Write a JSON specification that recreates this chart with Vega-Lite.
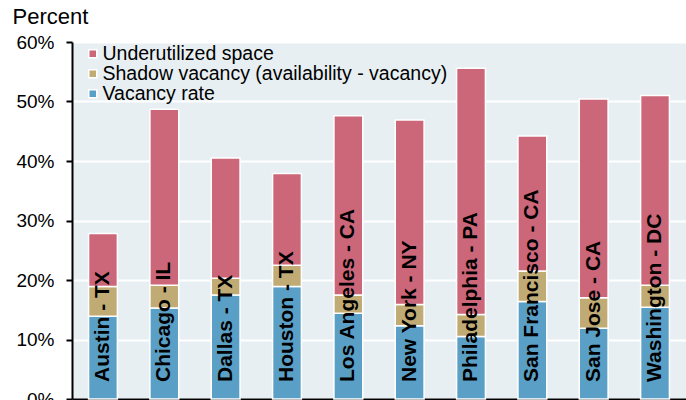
{
  "$schema": "https://vega.github.io/schema/vega-lite/v6.json",
  "width": 614,
  "height": 357,
  "autosize": {"type": "none"},
  "padding": {"left": 72, "top": 42, "right": 0, "bottom": 1},
  "background": "white",
  "config": {"font": "Liberation Sans", "view": {"fill": "#e7eff2", "stroke": null}},
  "data": {"values": [
    {"city": "Austin - TX", "series": "Vacancy rate", "rank": 1, "value": 13.9},
    {"city": "Austin - TX", "series": "Shadow vacancy (availability - vacancy)", "rank": 2, "value": 5.0},
    {"city": "Austin - TX", "series": "Underutilized space", "rank": 3, "value": 8.9},
    {"city": "Chicago - IL", "series": "Vacancy rate", "rank": 1, "value": 15.3},
    {"city": "Chicago - IL", "series": "Shadow vacancy (availability - vacancy)", "rank": 2, "value": 3.8},
    {"city": "Chicago - IL", "series": "Underutilized space", "rank": 3, "value": 29.6},
    {"city": "Dallas - TX", "series": "Vacancy rate", "rank": 1, "value": 17.5},
    {"city": "Dallas - TX", "series": "Shadow vacancy (availability - vacancy)", "rank": 2, "value": 2.8},
    {"city": "Dallas - TX", "series": "Underutilized space", "rank": 3, "value": 20.2},
    {"city": "Houston - TX", "series": "Vacancy rate", "rank": 1, "value": 18.9},
    {"city": "Houston - TX", "series": "Shadow vacancy (availability - vacancy)", "rank": 2, "value": 3.6},
    {"city": "Houston - TX", "series": "Underutilized space", "rank": 3, "value": 15.4},
    {"city": "Los Angeles - CA", "series": "Vacancy rate", "rank": 1, "value": 14.4},
    {"city": "Los Angeles - CA", "series": "Shadow vacancy (availability - vacancy)", "rank": 2, "value": 3.1},
    {"city": "Los Angeles - CA", "series": "Underutilized space", "rank": 3, "value": 30.1},
    {"city": "New York - NY", "series": "Vacancy rate", "rank": 1, "value": 12.3},
    {"city": "New York - NY", "series": "Shadow vacancy (availability - vacancy)", "rank": 2, "value": 3.6},
    {"city": "New York - NY", "series": "Underutilized space", "rank": 3, "value": 31.0},
    {"city": "Philadelphia - PA", "series": "Vacancy rate", "rank": 1, "value": 10.5},
    {"city": "Philadelphia - PA", "series": "Shadow vacancy (availability - vacancy)", "rank": 2, "value": 3.7},
    {"city": "Philadelphia - PA", "series": "Underutilized space", "rank": 3, "value": 41.4},
    {"city": "San Francisco - CA", "series": "Vacancy rate", "rank": 1, "value": 16.4},
    {"city": "San Francisco - CA", "series": "Shadow vacancy (availability - vacancy)", "rank": 2, "value": 5.1},
    {"city": "San Francisco - CA", "series": "Underutilized space", "rank": 3, "value": 22.7},
    {"city": "San Jose - CA", "series": "Vacancy rate", "rank": 1, "value": 11.9},
    {"city": "San Jose - CA", "series": "Shadow vacancy (availability - vacancy)", "rank": 2, "value": 5.1},
    {"city": "San Jose - CA", "series": "Underutilized space", "rank": 3, "value": 33.4},
    {"city": "Washington - DC", "series": "Vacancy rate", "rank": 1, "value": 15.4},
    {"city": "Washington - DC", "series": "Shadow vacancy (availability - vacancy)", "rank": 2, "value": 3.7},
    {"city": "Washington - DC", "series": "Underutilized space", "rank": 3, "value": 31.9}
  ]},
  "layer": [
    {
      "mark": {"type": "bar", "stroke": "white", "strokeWidth": 1.5},
      "encoding": {
        "x": {
          "field": "city", "type": "nominal", "sort": null,
          "scale": {"paddingInner": 0.53, "paddingOuter": 0.27},
          "axis": {"title": null, "labels": false, "ticks": false, "grid": false, "domainColor": "black", "domainWidth": 2}
        },
        "y": {
          "field": "value", "type": "quantitative", "stack": "zero",
          "scale": {"domain": [0, 60], "nice": false},
          "axis": {
            "values": [0, 10, 20, 30, 40, 50, 60],
            "labelExpr": "datum.value + '%'",
            "labelFontSize": 19, "labelColor": "black", "labelPadding": 12,
            "tickSize": 6, "tickColor": "black", "tickWidth": 2,
            "domainColor": "black", "domainWidth": 2,
            "gridColor": "white", "gridWidth": 2,
            "title": "Percent", "titleAngle": 0, "titleAlign": "left", "titleBaseline": "alphabetic",
            "titleX": -60, "titleY": -19, "titleFontSize": 22, "titleFontWeight": "normal", "titleColor": "black"
          }
        },
        "color": {
          "field": "series", "type": "nominal",
          "scale": {
            "domain": ["Underutilized space", "Shadow vacancy (availability - vacancy)", "Vacancy rate"],
            "range": ["#cc6679", "#c1ab74", "#5a9fc6"]
          },
          "legend": {
            "orient": "none", "legendX": 11, "legendY": 2, "title": null,
            "symbolType": "square", "symbolSize": 64, "symbolStrokeColor": "white", "symbolStrokeWidth": 1.5, "symbolOpacity": 1,
            "labelFontSize": 19.5, "labelColor": "black", "labelOffset": 0, "labelLimit": 500,
            "rowPadding": -2.3, "padding": 0
          }
        },
        "order": {"field": "rank", "type": "quantitative"}
      }
    },
    {
      "transform": [{"filter": "datum.rank == 1"}],
      "mark": {"type": "text", "angle": 270, "align": "left", "baseline": "middle", "dx": 17, "fontSize": 21, "fontWeight": "bold", "color": "black"},
      "encoding": {
        "x": {"field": "city", "type": "nominal", "sort": null},
        "y": {"datum": 0},
        "text": {"field": "city"}
      }
    }
  ]
}
